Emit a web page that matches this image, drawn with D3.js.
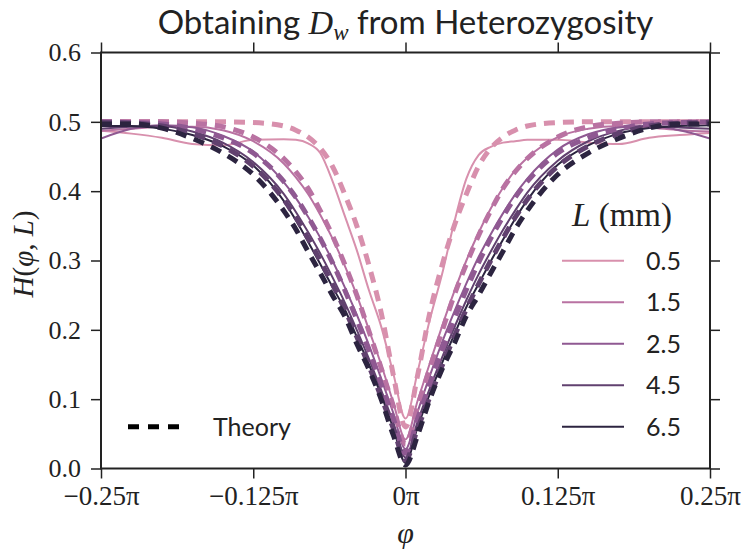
<!DOCTYPE html>
<html><head><meta charset="utf-8">
<script src="https://cdn.jsdelivr.net/npm/d3@7"></script>
<style>
html,body{margin:0;padding:0;background:#fff;}
svg{display:block;}
</style></head>
<body>
<svg id="chart" width="747" height="559"></svg>
<script>
// ---- data ----
const phi = [-0.25,-0.225,-0.2,-0.175,-0.15,-0.125,-0.1,-0.09,-0.08,-0.07,-0.06,-0.05,-0.04,-0.03,-0.02,-0.01,0,0.01,0.02,0.03,0.04,0.05,0.06,0.07,0.08,0.09,0.1,0.125,0.15,0.175,0.2,0.225,0.25];
const lengths = ["0.5","1.5","2.5","4.5","6.5"];
const colors = ["#d890ad","#b972a2","#8f5992","#61416f","#2c2440"];
const dataL05 = [0.487,0.483,0.477,0.468,0.466,0.474,0.475,0.474,0.469,0.455,0.415,0.365,0.315,0.257,0.205,0.137,0.072,0.14,0.215,0.28,0.355,0.418,0.452,0.464,0.47,0.472,0.474,0.474,0.47,0.468,0.477,0.481,0.484];
const dataL15 = [0.487,0.49,0.493,0.493,0.488,0.472,0.44,0.42,0.396,0.366,0.332,0.293,0.25,0.2,0.15,0.095,0.042,0.098,0.152,0.205,0.255,0.3,0.34,0.375,0.405,0.43,0.448,0.478,0.49,0.494,0.492,0.488,0.486];
const dataL25 = [0.476,0.49,0.495,0.492,0.48,0.457,0.413,0.39,0.363,0.333,0.3,0.262,0.222,0.178,0.13,0.08,0.028,0.082,0.134,0.182,0.226,0.267,0.305,0.338,0.368,0.395,0.418,0.46,0.482,0.492,0.494,0.488,0.476];
const dataL45 = [0.49,0.493,0.494,0.486,0.47,0.442,0.396,0.37,0.341,0.31,0.276,0.24,0.2,0.158,0.113,0.066,0.016,0.068,0.116,0.16,0.203,0.243,0.28,0.313,0.344,0.372,0.398,0.444,0.472,0.487,0.494,0.492,0.49];
const dataL65 = [0.494,0.494,0.49,0.481,0.465,0.437,0.386,0.358,0.327,0.295,0.262,0.23,0.19,0.15,0.106,0.058,0.008,0.06,0.108,0.152,0.193,0.233,0.266,0.299,0.33,0.36,0.387,0.438,0.466,0.483,0.491,0.494,0.495];
const theoryL05 = [0.5,0.5,0.5,0.5,0.5,0.499,0.494,0.488,0.478,0.462,0.436,0.396,0.35,0.293,0.225,0.135,0.06,0.135,0.225,0.293,0.35,0.396,0.436,0.462,0.478,0.488,0.494,0.499,0.5,0.5,0.5,0.5,0.5];
const theoryL15 = [0.5,0.5,0.5,0.498,0.493,0.478,0.447,0.428,0.404,0.372,0.336,0.295,0.25,0.198,0.145,0.09,0.035,0.09,0.145,0.198,0.25,0.295,0.336,0.372,0.404,0.428,0.447,0.478,0.493,0.498,0.5,0.5,0.5];
const theoryL25 = [0.5,0.499,0.497,0.49,0.477,0.455,0.414,0.391,0.363,0.332,0.297,0.258,0.215,0.17,0.122,0.072,0.022,0.072,0.122,0.17,0.215,0.258,0.297,0.332,0.363,0.391,0.414,0.455,0.477,0.49,0.497,0.499,0.5];
const theoryL45 = [0.499,0.498,0.494,0.483,0.465,0.436,0.388,0.362,0.332,0.3,0.266,0.23,0.19,0.148,0.103,0.058,0.012,0.058,0.103,0.148,0.19,0.23,0.266,0.3,0.332,0.362,0.388,0.436,0.465,0.483,0.494,0.498,0.499];
const theoryL65 = [0.497,0.497,0.491,0.476,0.455,0.424,0.372,0.345,0.313,0.282,0.25,0.22,0.18,0.143,0.1,0.048,0.005,0.048,0.1,0.143,0.18,0.22,0.25,0.282,0.313,0.345,0.372,0.424,0.455,0.476,0.491,0.497,0.497];
const xTicks = [-0.25,-0.125,0,0.125,0.25];
const xTickLabels = ["\u22120.25\u03c0","\u22120.125\u03c0","0\u03c0","0.125\u03c0","0.25\u03c0"];
const yTicks = [0,0.1,0.2,0.3,0.4,0.5,0.6];
const yTickLabels = ["0.0","0.1","0.2","0.3","0.4","0.5","0.6"];

const dataSeries = [dataL05,dataL15,dataL25,dataL45,dataL65];
const theorySeries = [theoryL05,theoryL15,theoryL25,theoryL45,theoryL65];

// ---- layout ----
const svg = d3.select("#chart");
const L = 101, R = 710, T = 52.5, B = 468.5;
const x = d3.scaleLinear().domain([-0.25,0.25]).range([L,R]);
const y = d3.scaleLinear().domain([0,0.6]).range([B,T]);
const serif = "'Liberation Serif','DejaVu Serif',serif";
const sans = "Lato,'Open Sans','DejaVu Sans',sans-serif";

const line = d3.line().x((d,i)=>x(phi[i])).y(d=>y(d)).curve(d3.curveMonotoneX);

const plot = svg.append("g");
plot.append("clipPath").attr("id","clip").append("rect")
  .attr("x",L).attr("y",T-5).attr("width",R-L).attr("height",B-T+5);
const curves = plot.append("g").attr("clip-path","url(#clip)");
lengths.forEach((lab,k)=>{
  curves.append("path").attr("d",line(dataSeries[k]))
    .attr("fill","none").attr("stroke",colors[k]).attr("stroke-width",2);
});
lengths.forEach((lab,k)=>{
  curves.append("path").attr("d",line(theorySeries[k]))
    .attr("fill","none").attr("stroke",colors[k]).attr("stroke-width",5)
    .attr("stroke-dasharray","11,8");
});

// ---- axes ----
function styleAxis(g){
  g.select(".domain").remove();
  g.selectAll(".tick line").attr("stroke","#222").attr("stroke-width",1.5);
  g.selectAll(".tick text").attr("fill","#222");
}
const xAxisB = d3.axisBottom(x).tickValues(xTicks).tickSize(10).tickPadding(6)
  .tickFormat((d,i)=>xTickLabels[i]);
const gxb = svg.append("g").attr("transform",`translate(0,${B})`).call(xAxisB);
styleAxis(gxb);
gxb.selectAll(".tick text").attr("font-family",serif).attr("font-size",27).attr("dy","0.75em");

const gxt = svg.append("g").attr("transform",`translate(0,${T})`)
  .call(d3.axisTop(x).tickValues(xTicks).tickSize(10).tickFormat(""));
styleAxis(gxt);

const yAxisL = d3.axisLeft(y).tickValues(yTicks).tickSize(10).tickPadding(10)
  .tickFormat((d,i)=>yTickLabels[i]);
const gyl = svg.append("g").attr("transform",`translate(${L},0)`).call(yAxisL);
styleAxis(gyl);
gyl.selectAll(".tick text").attr("font-family",serif).attr("font-size",26);

const gyr = svg.append("g").attr("transform",`translate(${R},0)`)
  .call(d3.axisRight(y).tickValues(yTicks).tickSize(10).tickFormat(""));
styleAxis(gyr);

svg.append("rect").attr("x",L).attr("y",T).attr("width",R-L).attr("height",B-T)
  .attr("fill","none").attr("stroke","#222").attr("stroke-width",2);

// ---- title & labels ----
const title = svg.append("text").attr("x",(L+R)/2).attr("y",34)
  .attr("text-anchor","middle").attr("font-family",sans).attr("font-size",33).attr("fill","#222");
title.append("tspan").text("Obtaining ");
title.append("tspan").attr("font-family",serif).attr("font-style","italic").attr("font-size",34).text("D");
title.append("tspan").attr("font-family",serif).attr("font-style","italic").attr("font-size",23).attr("dy",6).text("w");
title.append("tspan").attr("dy",-6).text(" from Heterozygosity");

svg.append("text").attr("x",(L+R)/2).attr("y",543).attr("text-anchor","middle")
  .attr("font-family",serif).attr("font-style","italic").attr("font-size",30).attr("fill","#222").text("\u03c6");

const yl = svg.append("text").attr("transform","translate(33,254) rotate(-90)")
  .attr("text-anchor","middle").attr("font-family",serif).attr("font-size",29).attr("fill","#222");
yl.append("tspan").attr("font-style","italic").text("H");
yl.append("tspan").text("(");
yl.append("tspan").attr("font-style","italic").text("\u03c6");
yl.append("tspan").text(", ");
yl.append("tspan").attr("font-style","italic").text("L");
yl.append("tspan").text(")");

// ---- legend ----
const lt = svg.append("text").attr("x",622).attr("y",226).attr("text-anchor","middle")
  .attr("font-family",serif).attr("font-size",33).attr("fill","#222");
lt.append("tspan").attr("font-style","italic").text("L");
lt.append("tspan").text(" (mm)");

const legY = d3.scaleLinear().domain([0,4]).range([260.7,426.7]);
lengths.forEach((lab,k)=>{
  svg.append("line").attr("x1",562).attr("x2",624).attr("y1",legY(k)).attr("y2",legY(k))
    .attr("stroke",colors[k]).attr("stroke-width",2);
  svg.append("text").attr("x",646).attr("y",legY(k)).attr("dy","0.36em")
    .attr("font-family",sans).attr("font-size",25).attr("fill","#222").text(lab);
});
svg.append("line").attr("x1",128).attr("x2",180).attr("y1",426.7).attr("y2",426.7)
  .attr("stroke","#000").attr("stroke-width",5).attr("stroke-dasharray","11,9");
svg.append("text").attr("x",213).attr("y",426.7).attr("dy","0.36em")
  .attr("font-family",sans).attr("font-size",25).attr("fill","#222").text("Theory");
</script>
</body></html>
